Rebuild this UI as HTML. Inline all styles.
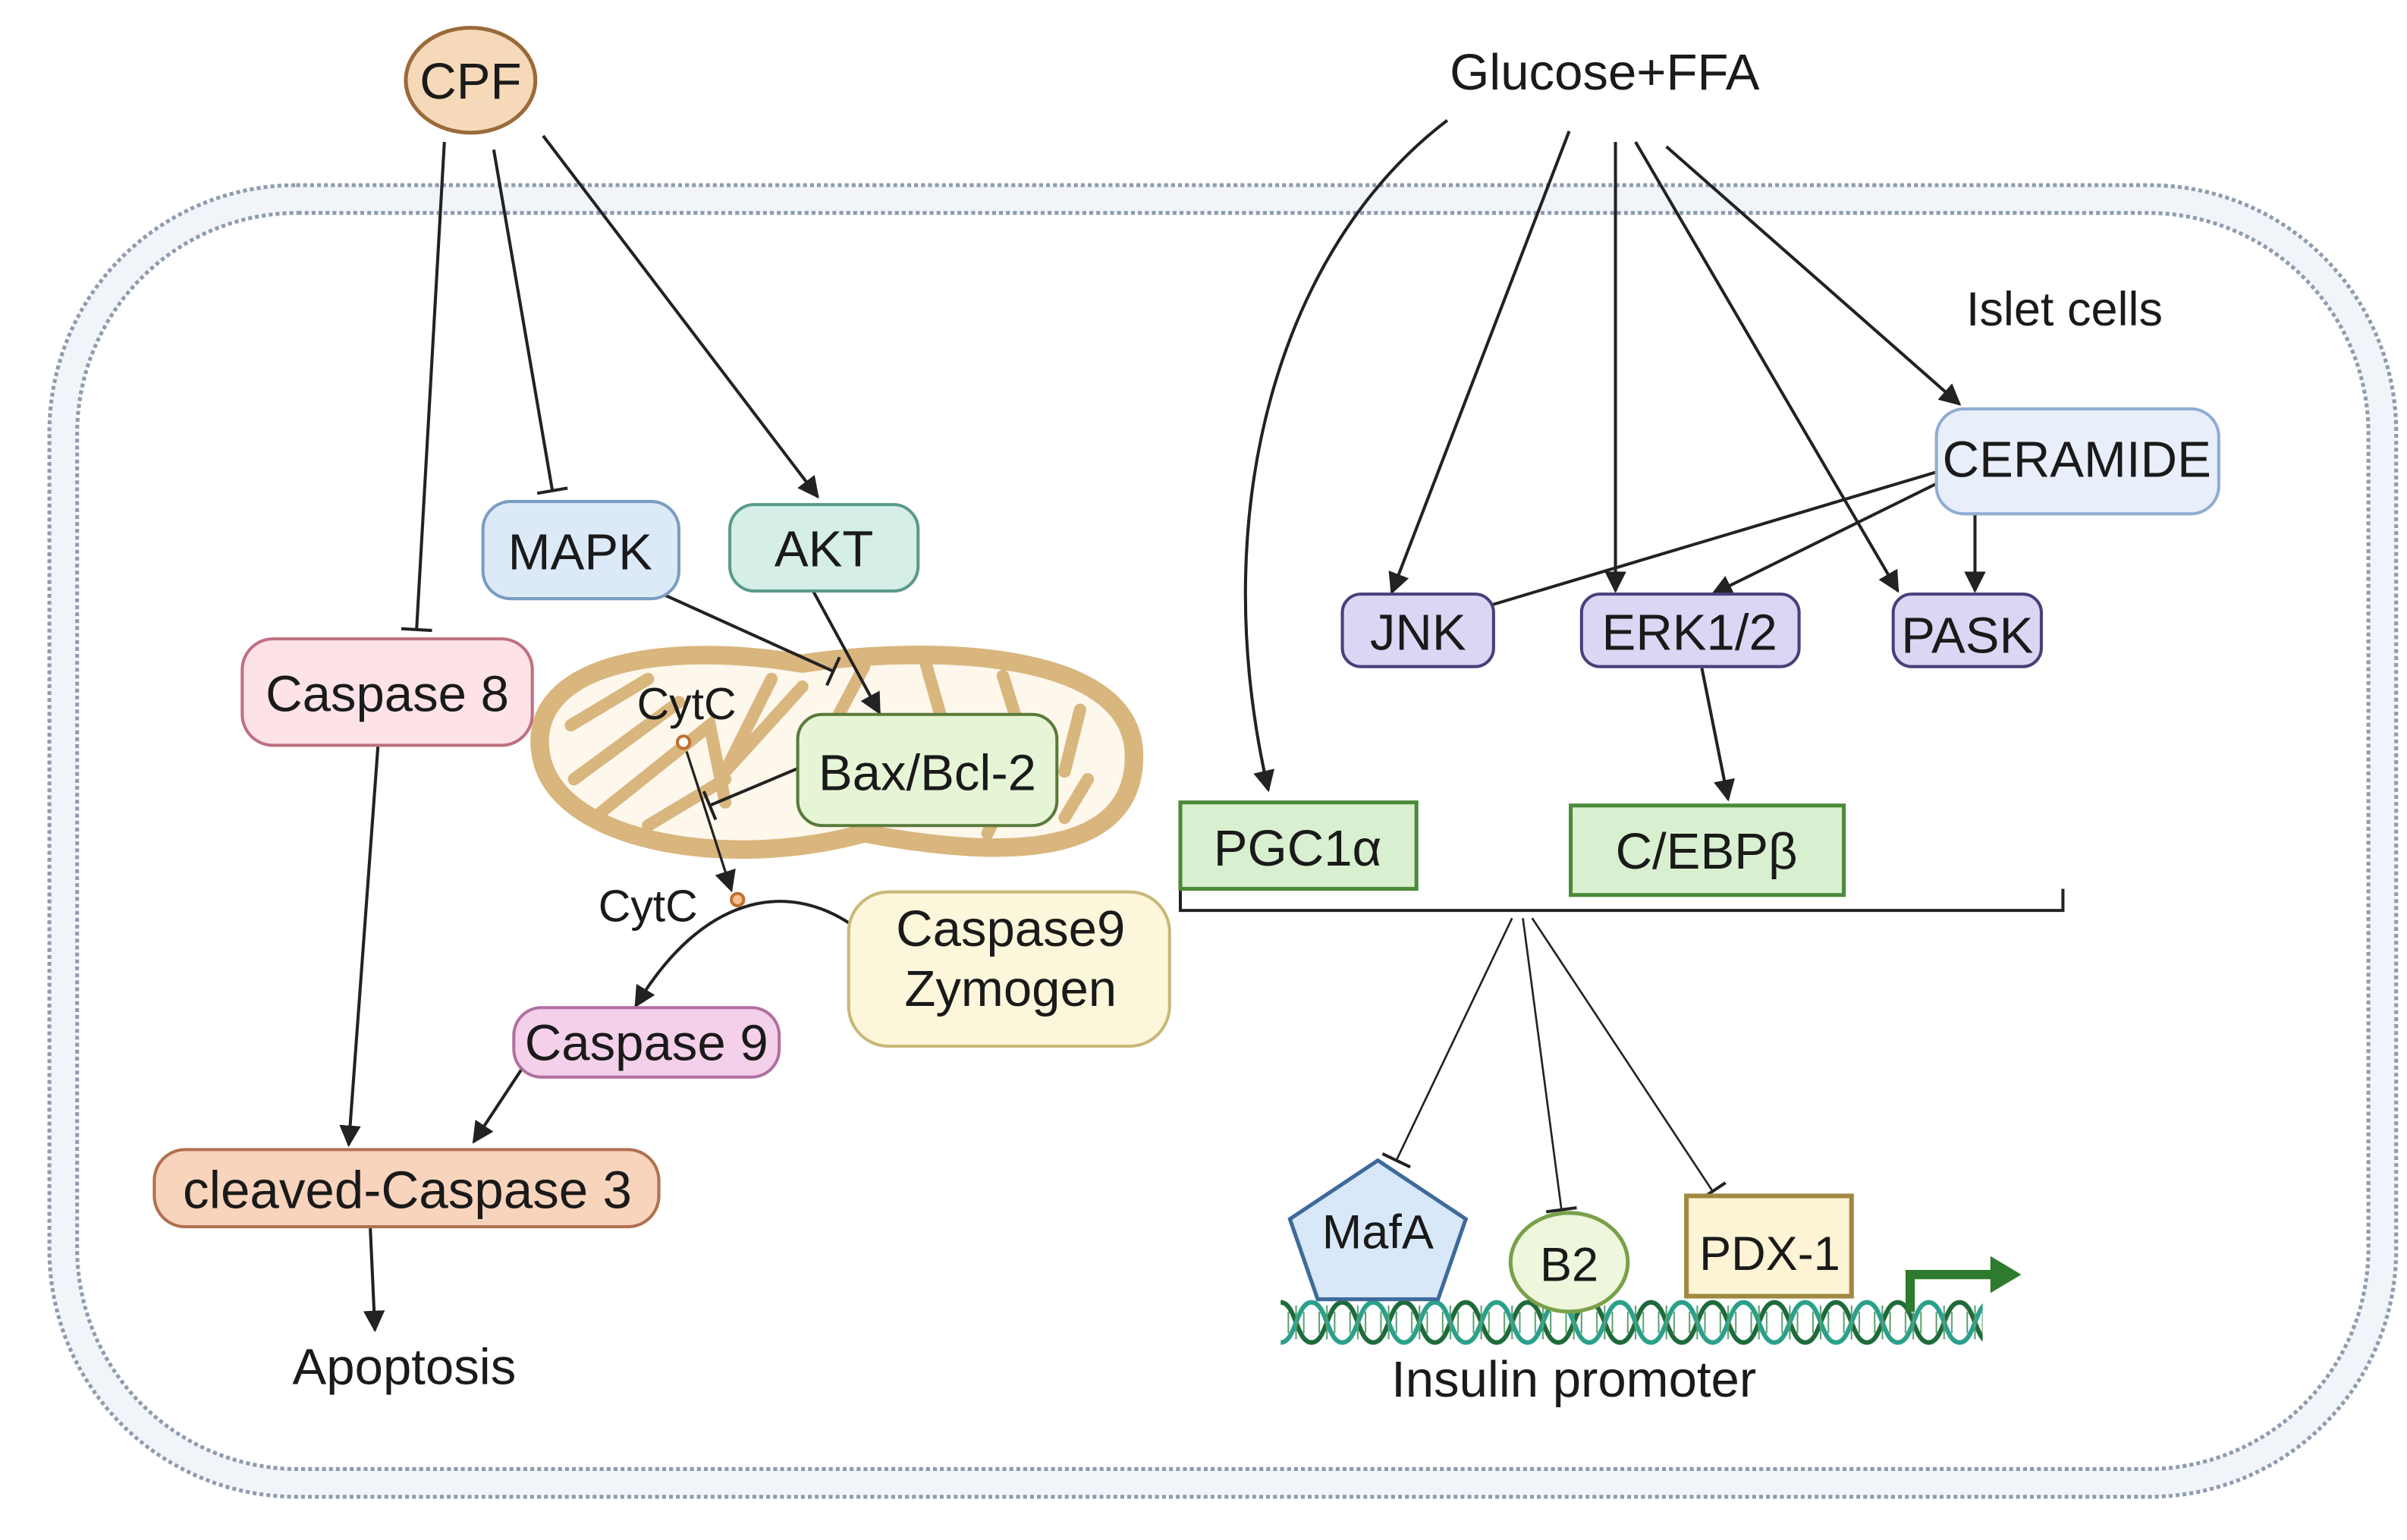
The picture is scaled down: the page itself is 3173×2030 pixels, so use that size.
<!DOCTYPE html>
<html><head><meta charset="utf-8"><style>
html,body{margin:0;padding:0;background:#fff}
svg{display:block}
text{font-family:"Liberation Sans",Arial,sans-serif;fill:#1a1a1a}
</style></head><body>
<svg width="3173" height="2030" viewBox="0 0 1560 998" preserveAspectRatio="none" xmlns="http://www.w3.org/2000/svg">
<defs>
<marker id="ah" viewBox="0 0 10 10" refX="9" refY="5" markerWidth="14" markerHeight="14" orient="auto" markerUnits="userSpaceOnUse"><path d="M0,0 L10,5 L0,10 z" fill="#222"/></marker>
<marker id="t" viewBox="0 0 4 20" refX="2" refY="10" markerWidth="4" markerHeight="20" orient="auto" markerUnits="userSpaceOnUse"><path d="M2,0 L2,20" stroke="#222" stroke-width="2"/></marker>
<pattern id="dna" x="830" y="840" width="40" height="34" patternUnits="userSpaceOnUse">
<path d="M0,4 C10,4 10,30 20,30 C30,30 30,4 40,4" fill="none" stroke="#1f6a3a" stroke-width="3"/>
<path d="M0,30 C10,30 10,4 20,4 C30,4 30,30 40,30" fill="none" stroke="#2aa08a" stroke-width="3"/>
<path d="M5,10 V24 M10,6 V28 M15,10 V24 M25,10 V24 M30,6 V28 M35,10 V24" stroke="#5aa070" stroke-width="1"/>
</pattern>
</defs>
<rect width="1560" height="998" fill="#fff"/>
<rect x="41" y="129" width="1503" height="832" rx="152" fill="none" stroke="#f1f4f9" stroke-width="18"/>
<rect x="32" y="120" width="1521" height="850" rx="160" fill="none" stroke="#8e9cae" stroke-width="2.5" stroke-dasharray="2.5 2"/>
<rect x="50" y="138" width="1485" height="814" rx="143" fill="none" stroke="#8e9cae" stroke-width="2.5" stroke-dasharray="2.5 2"/>

<path d="M350,485 C345,430 430,415 520,430 C600,418 735,420 735,490 C735,560 640,555 560,540 C470,565 355,545 350,485 Z" fill="#fdf7ec" stroke="#d9b67e" stroke-width="12"/>
<g stroke="#d9b67e" stroke-width="8" fill="none" stroke-linecap="round">
<path d="M370,470 L420,440 M372,505 L440,455 M385,530 L460,470 L470,520 M500,440 L470,500 L520,445 M560,432 L540,470 M600,430 L610,465 M650,438 L660,470 M700,460 L690,500 M705,505 L690,530 M640,540 L650,520 M420,535 L470,505"/>
</g>

<g stroke="#222" stroke-width="2" fill="none">
<line x1="288" y1="92" x2="270" y2="408" marker-end="url(#t)"/>
<line x1="320" y1="97" x2="358" y2="318" marker-end="url(#t)"/>
<line x1="352" y1="88" x2="530" y2="322" marker-end="url(#ah)"/>
<line x1="425" y1="383" x2="540" y2="435" marker-end="url(#t)"/>
<line x1="527" y1="383" x2="570" y2="462" marker-end="url(#ah)"/>
<line x1="517" y1="498" x2="460" y2="522" marker-end="url(#t)"/>
<line x1="445" y1="487" x2="474" y2="577" marker-end="url(#ah)" stroke-width="1.6"/>
<path d="M553,600 C510,570 455,580 412,652" marker-end="url(#ah)"/>
<line x1="245" y1="483" x2="226" y2="742" marker-end="url(#ah)"/>
<line x1="340" y1="690" x2="307" y2="740" marker-end="url(#ah)"/>
<line x1="240" y1="796" x2="243" y2="862" marker-end="url(#ah)"/>
<path d="M938,78 C830,160 780,330 822,512" marker-end="url(#ah)"/>
<line x1="1017" y1="85" x2="902" y2="384" marker-end="url(#ah)"/>
<line x1="1047" y1="92" x2="1047" y2="383" marker-end="url(#ah)"/>
<line x1="1060" y1="92" x2="1230" y2="383" marker-end="url(#ah)"/>
<line x1="1080" y1="95" x2="1270" y2="262" marker-end="url(#ah)"/>
<line x1="1258" y1="305" x2="950" y2="397" marker-end="url(#ah)"/>
<line x1="1258" y1="312" x2="1110" y2="385" marker-end="url(#ah)"/>
<line x1="1280" y1="333" x2="1280" y2="383" marker-end="url(#ah)"/>
<line x1="1103" y1="433" x2="1120" y2="518" marker-end="url(#ah)"/>
<path d="M765,576 V590 H1337 V576"/>
<g stroke-width="1.3">
<line x1="980" y1="595" x2="905" y2="752" marker-end="url(#t)"/>
<line x1="987" y1="595" x2="1012" y2="784" marker-end="url(#t)"/>
<line x1="993" y1="595" x2="1110" y2="772" marker-end="url(#t)"/>
</g>
</g>
<circle cx="443" cy="481" r="4" fill="#fff" stroke="#c07030" stroke-width="2"/>
<circle cx="478" cy="583" r="4" fill="#f5c090" stroke="#c07030" stroke-width="2"/>

<ellipse cx="305" cy="52" rx="42" ry="34" fill="#f5d9b8" stroke="#9a6a3a" stroke-width="2.5"/>
<text x="305" y="64" font-size="33" text-anchor="middle">CPF</text>
<text x="1040" y="58" font-size="33" text-anchor="middle">Glucose+FFA</text>
<text x="1338" y="211" font-size="31" text-anchor="middle">Islet cells</text>

<g stroke-width="2">
<rect x="313" y="325" width="127" height="63" rx="18" fill="#dceaf8" stroke="#7a9cc0"/>
<rect x="473" y="327" width="122" height="56" rx="16" fill="#d5efe8" stroke="#5a9a8a"/>
<rect x="157" y="414" width="188" height="69" rx="20" fill="#fde3e8" stroke="#c07080"/>
<rect x="517" y="463" width="168" height="72" rx="16" fill="#e6f5d6" stroke="#5a7a3a"/>
<rect x="550" y="578" width="208" height="100" rx="26" fill="#fcf6da" stroke="#c8b878"/>
<rect x="333" y="653" width="172" height="45" rx="18" fill="#f5d0ea" stroke="#b070a0"/>
<rect x="100" y="745" width="327" height="50" rx="20" fill="#f8d4bc" stroke="#b07050"/>
<rect x="1255" y="265" width="183" height="68" rx="18" fill="#e8effa" stroke="#90acd2"/>
<rect x="870" y="385" width="98" height="47" rx="12" fill="#dcd6f4" stroke="#4a3e7a"/>
<rect x="1025" y="385" width="141" height="47" rx="12" fill="#dcd6f4" stroke="#4a3e7a"/>
<rect x="1227" y="385" width="96" height="47" rx="12" fill="#dcd6f4" stroke="#4a3e7a"/>
<rect x="765" y="520" width="153" height="56" fill="#d9f0d0" stroke="#4a8a3a" stroke-width="2.5"/>
<rect x="1018" y="522" width="177" height="58" fill="#d9f0d0" stroke="#4a8a3a" stroke-width="2.5"/>
</g>
<g font-size="33" text-anchor="middle">
<text x="376" y="369">MAPK</text>
<text x="534" y="367">AKT</text>
<text x="251" y="461">Caspase 8</text>
<text x="601" y="512">Bax/Bcl-2</text>
<text x="445" y="466" font-size="29">CytC</text>
<text x="420" y="597" font-size="29">CytC</text>
<text x="655" y="613">Caspase9</text>
<text x="655" y="652">Zymogen</text>
<text x="419" y="687">Caspase 9</text>
<text x="264" y="783" font-size="34">cleaved-Caspase 3</text>
<text x="262" y="897">Apoptosis</text>
<text x="1346" y="309">CERAMIDE</text>
<text x="919" y="421">JNK</text>
<text x="1095" y="421">ERK1/2</text>
<text x="1275" y="423">PASK</text>
<text x="841" y="561">PGC1α</text>
<text x="1106" y="563">C/EBPβ</text>
</g>

<rect x="830" y="840" width="455" height="34" fill="url(#dna)"/>
<polygon points="893,752 950,790 932,842 854,842 836,790" fill="#d8e8f8" stroke="#3e6a9a" stroke-width="2.5"/>
<ellipse cx="1017" cy="818" rx="38" ry="32" fill="#eef6dc" stroke="#7aa04a" stroke-width="2.5"/>
<rect x="1093" y="775" width="107" height="65" fill="#fcf4d4" stroke="#a08840" stroke-width="3"/>
<path d="M1238,850 V826 H1292" fill="none" stroke="#2e7a2e" stroke-width="6"/>
<polygon points="1290,814 1310,826 1290,838" fill="#2e7a2e"/>
<g font-size="31" text-anchor="middle">
<text x="893" y="809">MafA</text>
<text x="1017" y="830">B2</text>
<text x="1147" y="823">PDX-1</text>
<text x="1020" y="905" font-size="33">Insulin promoter</text>
</g>
</svg>
</body></html>
